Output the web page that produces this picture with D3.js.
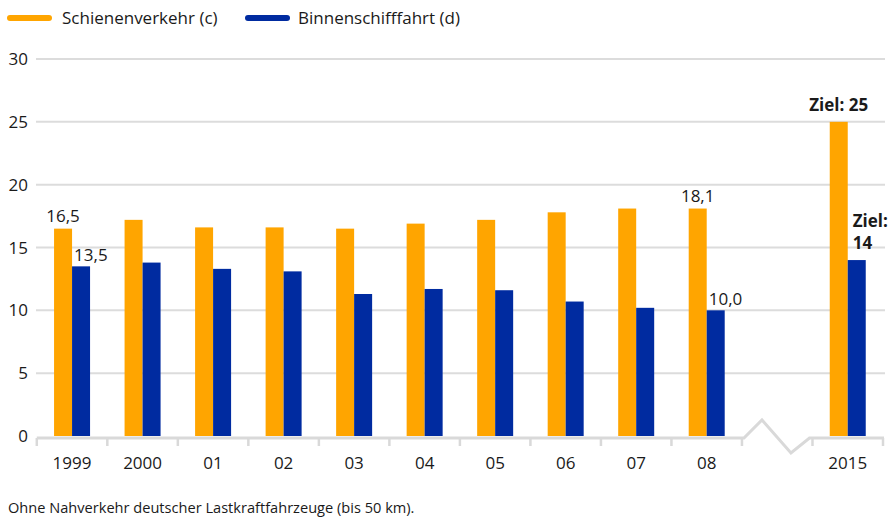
<!DOCTYPE html>
<html><head><meta charset="utf-8">
<script src="https://cdn.jsdelivr.net/npm/d3@7"></script>
<style>
html,body{margin:0;padding:0;background:#fff;}
svg{display:block;font-family:"Open Sans",sans-serif;}
</style></head>
<body><svg id="c" width="888" height="520"></svg>
<script>
const categories = ['1999','2000','01','02','03','04','05','06','07','08','gap','2015'];
const categoryLabels = ['1999','2000','01','02','03','04','05','06','07','08','','2015'];
const schienenverkehr = [16.5,17.2,16.6,16.6,16.5,16.9,17.2,17.8,18.1,18.1,null,25];
const binnenschifffahrt = [13.5,13.8,13.3,13.1,11.3,11.7,11.6,10.7,10.2,10.0,null,14];
const yTicks = [0,5,10,15,20,25,30];
const seriesNames = ['Schienenverkehr (c)','Binnenschifffahrt (d)'];
const seriesColors = ['#ffa500','#002ba0'];
const labelCats = ['1999','1999','08','08','2015','2015'];
const labelSeries = [0,1,0,1,0,1];
const labelTexts = [['16,5'],['13,5'],['18,1'],['10,0'],['Ziel: 25'],['Ziel:','14']];
const labelBold = [false,false,false,false,true,true];
const footnote = 'Ohne Nahverkehr deutscher Lastkraftfahrzeuge (bis 50 km).';

const svg = d3.select('#c');
const x = d3.scaleBand().domain(categories).range([36.8,883]).padding(0);
const y = d3.scaleLinear().domain([0,30]).range([436,59]);
const barW = 18;
const grid = '#dcdcdc';
const axisCol = '#d9d9d9';
const txt = '#1a1a1a';

// gridlines
svg.append('g').selectAll('line').data(yTicks.filter(d=>d>0)).join('line')
  .attr('x1',36).attr('x2',885).attr('y1',d=>y(d)).attr('y2',d=>y(d))
  .attr('stroke',grid).attr('stroke-width',2);

// y labels
svg.append('g').selectAll('text').data(yTicks).join('text')
  .attr('x',28).attr('y',d=>y(d)).attr('dy','0.36em').attr('text-anchor','end')
  .attr('font-size',17).attr('fill',txt).text(d=>d);

// bars
const series = [schienenverkehr, binnenschifffahrt];
series.forEach((vals,si)=>{
  svg.append('g').selectAll('rect').data(categories.map((c,i)=>({c,v:vals[i]})).filter(d=>d.v!=null)).join('rect')
    .attr('x',d=>x(d.c)+x.bandwidth()/2 - barW + si*barW)
    .attr('width',barW)
    .attr('y',d=>y(d.v)).attr('height',d=>y(0)-y(d.v))
    .attr('fill',seriesColors[si]);
});

// x axis with break
const axY = 438;
const x0 = x.range()[0], x1 = x.range()[1];
const gapStart = x('gap'), gapEnd = x('gap')+x.bandwidth();
const ax = svg.append('g');
const breakPath = d3.path();
breakPath.moveTo(x0, axY);
breakPath.lineTo(gapStart+2, axY);
breakPath.lineTo(gapStart+20, 420);
breakPath.lineTo(gapStart+49, 453);
breakPath.lineTo(gapEnd-3, axY);
breakPath.lineTo(x1+1, axY);
ax.append('path').attr('d',breakPath.toString()).attr('fill','none')
  .attr('stroke',axisCol).attr('stroke-width',3).attr('stroke-linejoin','miter');
const tickXs = categories.map(c=>x(c)).concat([x1]);
ax.selectAll('line.t').data(tickXs).join('line').attr('class','t')
  .attr('x1',d=>d).attr('x2',d=>d).attr('y1',axY).attr('y2',axY+8)
  .attr('stroke',axisCol).attr('stroke-width',2.5);
ax.selectAll('text').data(categories).join('text')
  .attr('x',d=>x(d)+x.bandwidth()/2).attr('y',469).attr('text-anchor','middle')
  .attr('font-size',17).attr('fill',txt).text((d,i)=>categoryLabels[i]);

// value labels
labelCats.forEach((c,i)=>{
  const si = labelSeries[i];
  const v = series[si][categories.indexOf(c)];
  const bx = x(c)+x.bandwidth()/2 - barW + si*barW;
  const bold = labelBold[i];
  const lines = labelTexts[i];
  const lh = 22;
  const gap = bold ? 11 : (si===0 ? 7 : 5);
  const baseY = y(v) - gap - (lines.length-1)*lh;
  const t = svg.append('text').attr('font-size',17).attr('fill',txt)
    .attr('font-weight',bold?'bold':'normal')
    .attr('text-anchor', si===0 ? 'middle' : 'start');
  lines.forEach((ln,k)=>{
    t.append('tspan').attr('x', si===0 ? bx+barW/2 : bx+(bold?5:2)).attr('y', baseY + k*lh).text(ln);
  });
});

// legend
const leg = svg.append('g');
const legX = [10, 248];
seriesNames.forEach((n,i)=>{
  leg.append('line').attr('x1',legX[i]).attr('x2',legX[i]+39).attr('y1',18).attr('y2',18)
    .attr('stroke',seriesColors[i]).attr('stroke-width',6).attr('stroke-linecap','round');
  leg.append('text').attr('x',legX[i]+(i===0?52:50)).attr('y',24).attr('font-size',17).attr('fill',txt).text(n);
});

// footnote
svg.append('text').attr('x',8).attr('y',513).attr('font-size',14.6).attr('fill',txt).text(footnote);
</script>
</body></html>
